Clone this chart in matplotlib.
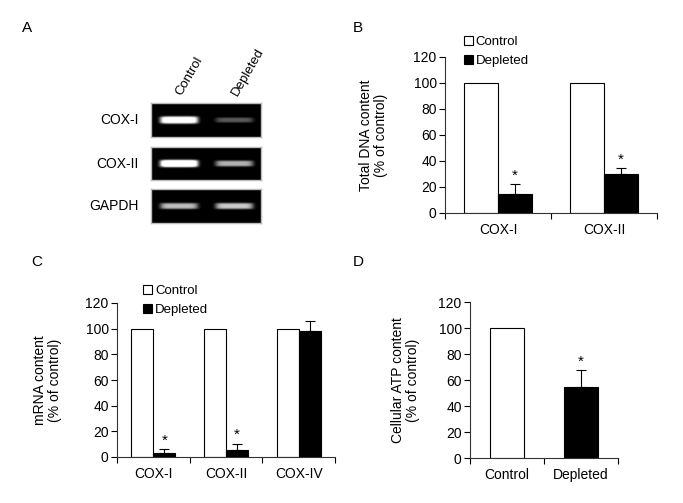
import numpy as np
import matplotlib.pyplot as plt
from matplotlib.patches import Patch

plt.rcParams['font.family'] = ['Liberation Sans', 'DejaVu Sans']
plt.rcParams['font.size'] = 9

# ---- data ----
gel_rows = ['COX-I', 'COX-II', 'GAPDH']
gel_cols = ['Control', 'Depleted']
band_intensity = [[1.3, 0.35], [1.5, 0.7], [0.75, 0.8]]

dna_genes = ['COX-I', 'COX-II']
dna_control = [100, 100]
dna_depleted = [15, 30]
dna_err = [7, 4.5]

mrna_genes = ['COX-I', 'COX-II', 'COX-IV']
mrna_control = [100, 100, 100]
mrna_depleted = [3.5, 5.5, 98]
mrna_err = [3, 5, 8]
mrna_sig = [True, True, False]

atp_groups = ['Control', 'Depleted']
atp_values = [100, 54.5]
atp_err = [0, 13.5]

W, H = 683, 503
fig = plt.figure(figsize=(W / 100, H / 100), dpi=100)


def px_axes(x0, y0, x1, y1):
    # axes from pixel box (top-left origin)
    return fig.add_axes([x0 / W, 1 - y1 / H, (x1 - x0) / W, (y1 - y0) / H])


def style_axes(ax, ncat, labels):
    for s in ['top', 'right']:
        ax.spines[s].set_visible(False)
    for s in ['left', 'bottom']:
        ax.spines[s].set_linewidth(0.8)
        ax.spines[s].set_color('#333333')
    ax.set_ylim(0, 120)
    ax.set_yticks(range(0, 121, 20))
    ax.set_xlim(-0.5, ncat - 0.5)
    ax.set_xticks(np.arange(ncat + 1) - 0.5)
    ax.set_xticklabels([])
    ax.set_xticks(np.arange(ncat), minor=True)
    ax.set_xticklabels(labels, minor=True)
    ax.tick_params(axis='y', direction='out', length=4, width=0.8, labelsize=10, pad=2)
    ax.tick_params(axis='x', which='major', direction='out', length=4, width=0.8)
    ax.tick_params(axis='x', which='minor', length=0, labelsize=10, pad=7)


def star(ax, x, top):
    ax.text(x, top + 1, '*', ha='center', va='bottom', fontsize=11)


# ---- panel letters ----
for letter, (x, y) in zip('ABCD', [(27, 28), (358, 28), (37, 262), (358, 262)]):
    fig.text(x / W, 1 - y / H, letter, fontsize=11, ha='center', va='center')

# ---- A: gel ----
gel_boxes = [(151, 103, 261, 137), (151, 147, 261, 180), (151, 189, 261, 223)]
band_centers = [179, 234.5]
for r, (x0, y0, x1, y1) in enumerate(gel_boxes):
    ax = px_axes(x0, y0, x1, y1)
    xs = np.linspace(x0, x1, 220)
    ys = np.linspace(0, y1 - y0, 70) - (y1 - y0) / 2
    X, Y = np.meshgrid(xs, ys)
    img = np.zeros_like(X)
    for c, cx in enumerate(band_centers):
        inten = band_intensity[r][c]
        sy = 2.2 + 1.2 * min(inten, 1.2)
        img += inten * np.exp(-((X - cx) / 19) ** 8) * np.exp(-(Y / sy) ** 4)
    ax.imshow(np.clip(img, 0, 1), cmap='gray', vmin=0, vmax=1, aspect='auto',
              extent=[x0, x1, 0, y1 - y0])
    ax.set_xticks([])
    ax.set_yticks([])
    for s in ax.spines.values():
        s.set_color('#bbbbbb')
        s.set_linewidth(1)
    fig.text(139 / W, 1 - (y0 + y1) / 2 / H, gel_rows[r], ha='right', va='center', fontsize=10)

for name, x in zip(gel_cols, [181, 237]):
    fig.text(x / W, 1 - 96 / H, name, rotation=60, rotation_mode='anchor',
             ha='left', va='baseline', fontsize=9.5)

handles = [Patch(facecolor='white', edgecolor='black', linewidth=0.8, label='Control'),
           Patch(facecolor='black', edgecolor='black', linewidth=0.8, label='Depleted')]

# ---- B: DNA ----
ax = px_axes(445, 57, 657, 213)
w = 0.32
x = np.arange(len(dna_genes))
ax.bar(x - w / 2, dna_control, w, color='white', edgecolor='black', linewidth=0.8)
ax.bar(x + w / 2, dna_depleted, w, color='black', edgecolor='black', linewidth=0.8)
ax.errorbar(x + w / 2, dna_depleted, yerr=[np.zeros(len(x)), dna_err], fmt='none',
            ecolor='black', elinewidth=0.8, capsize=3.5, capthick=0.8)
for xi, v, e in zip(x, dna_depleted, dna_err):
    star(ax, xi + w / 2, v + e)
style_axes(ax, len(dna_genes), dna_genes)
ax.set_ylabel('Total DNA content\n(% of control)', fontsize=10, linespacing=1.05)
ax.yaxis.set_label_coords((388 - 445) / 212, 0.5)
ax.legend(handles=handles, loc='upper left', bbox_to_anchor=(464 / W, 1 - 36 / H),
          bbox_transform=fig.transFigure, frameon=False, fontsize=9.5,
          handlelength=0.7, handleheight=0.7, handletextpad=0.2, labelspacing=0.5,
          borderpad=0, borderaxespad=0)

# ---- C: mRNA ----
ax = px_axes(117, 303, 335, 457)
w = 0.305
x = np.arange(len(mrna_genes))
ax.bar(x - w / 2, mrna_control, w, color='white', edgecolor='black', linewidth=0.8)
ax.bar(x + w / 2, mrna_depleted, w, color='black', edgecolor='black', linewidth=0.8)
ax.errorbar(x + w / 2, mrna_depleted, yerr=[np.zeros(len(x)), mrna_err], fmt='none',
            ecolor='black', elinewidth=0.8, capsize=3.5, capthick=0.8)
for xi, v, e, s in zip(x, mrna_depleted, mrna_err, mrna_sig):
    if s:
        star(ax, xi + w / 2, v + e)
style_axes(ax, len(mrna_genes), mrna_genes)
ax.set_ylabel('mRNA content\n(% of control)', fontsize=10, linespacing=1.05)
ax.yaxis.set_label_coords((62 - 117) / 218, 0.5)
ax.legend(handles=handles, loc='upper left', bbox_to_anchor=(143 / W, 1 - 285 / H),
          bbox_transform=fig.transFigure, frameon=False, fontsize=9.5,
          handlelength=0.7, handleheight=0.7, handletextpad=0.2, labelspacing=0.5,
          borderpad=0, borderaxespad=0)

# ---- D: ATP ----
ax = px_axes(470, 302, 618, 458)
w = 0.46
x = np.arange(len(atp_groups))
ax.bar(x, atp_values, w, color=['white', 'black'], edgecolor='black', linewidth=0.8)
ax.errorbar(x[1:], atp_values[1:], yerr=[[0], atp_err[1:]], fmt='none',
            ecolor='black', elinewidth=0.8, capsize=3.5, capthick=0.8)
star(ax, x[1], atp_values[1] + atp_err[1])
style_axes(ax, len(atp_groups), atp_groups)
ax.set_ylabel('Cellular ATP content\n(% of control)', fontsize=10, linespacing=1.05)
ax.yaxis.set_label_coords((420 - 470) / 148, 0.5)

fig.savefig('out.png', dpi=100)
